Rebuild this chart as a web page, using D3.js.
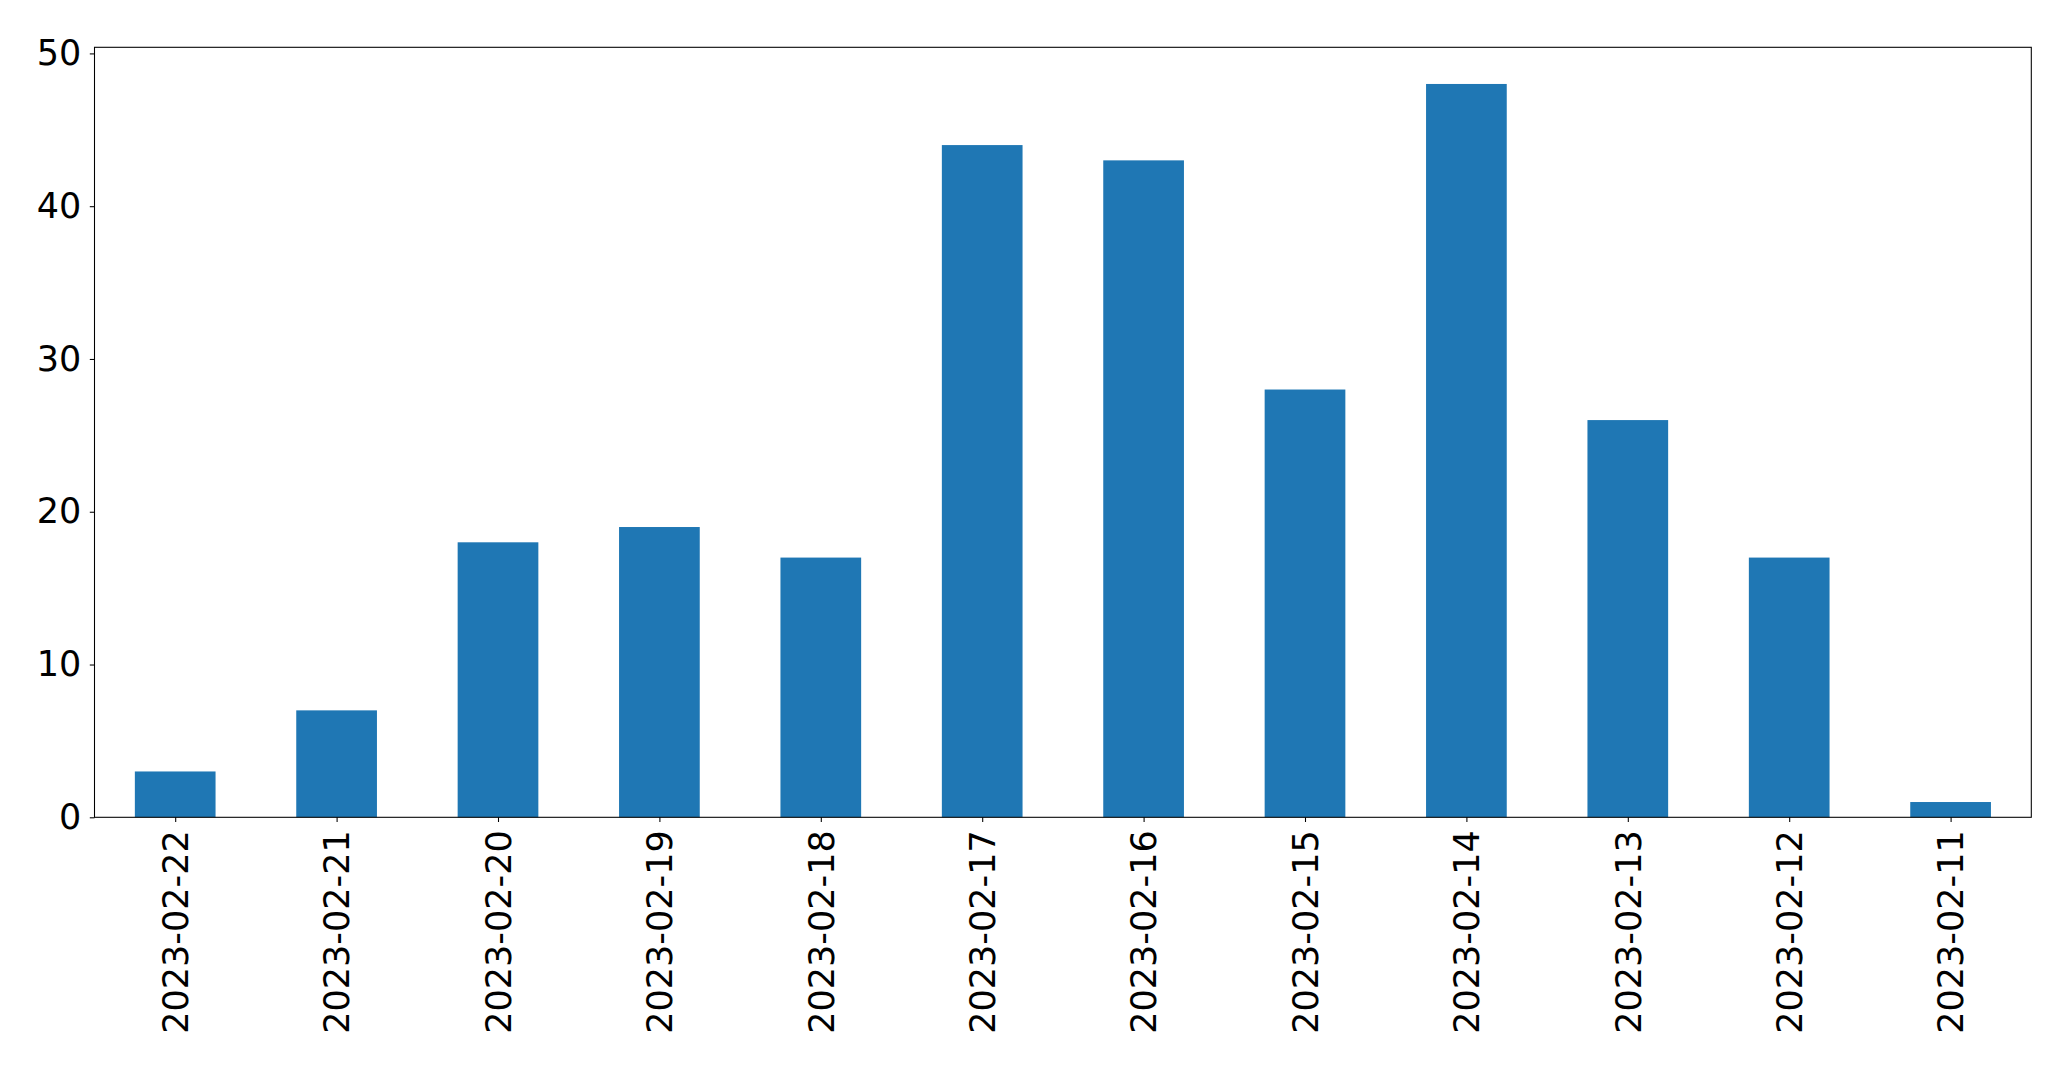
<!DOCTYPE html>
<html><head><meta charset="utf-8">
<script src="https://cdn.jsdelivr.net/npm/d3@7"></script>
<style>body{margin:0;background:#fff}svg{display:block}</style>
</head><body>
<script>
const categories = ["2023-02-22","2023-02-21","2023-02-20","2023-02-19","2023-02-18","2023-02-17","2023-02-16","2023-02-15","2023-02-14","2023-02-13","2023-02-12","2023-02-11"];
const values = [3, 7, 18, 19, 17, 44, 43, 28, 48, 26, 17, 1];
const yTicks = [0, 10, 20, 30, 40, 50];

const W = 2071, H = 1069;
const L = 94.5, R = 2031.3, T = 47.3, B = 817.3;
const fs = 35;
const svg = d3.select("body").append("svg").attr("width", W).attr("height", H);

const x = d3.scaleLinear().domain([-0.5, categories.length - 0.5]).range([L, R]);
const y = d3.scaleLinear().domain([0, 50.4]).range([B, T]);

svg.append("g").selectAll("rect").data(values).join("rect")
  .attr("x", (d, i) => x(i - 0.25)).attr("width", (d, i) => x(i + 0.25) - x(i - 0.25))
  .attr("y", d => y(d)).attr("height", d => y(0) - y(d))
  .attr("fill", "#1f77b4");

const yAxis = svg.append("g").attr("transform", `translate(${L},0)`)
  .call(d3.axisLeft(y).tickValues(yTicks).tickSize(4.7).tickPadding(8.5).tickFormat(d3.format("d")));
yAxis.select(".domain").remove();
yAxis.selectAll("line").attr("stroke", "#000").attr("stroke-width", 1.07);
yAxis.selectAll("text").attr("font-family", "DejaVu Sans").attr("font-size", fs).attr("fill", "#000");

const xAxis = svg.append("g").attr("transform", `translate(0,${B})`)
  .call(d3.axisBottom(x).tickValues(d3.range(categories.length)).tickSize(4.7).tickFormat(i => categories[i]));
xAxis.select(".domain").remove();
xAxis.selectAll("line").attr("stroke", "#000").attr("stroke-width", 1.07);
xAxis.selectAll("text").attr("font-family", "DejaVu Sans").attr("font-size", fs).attr("fill", "#000")
  .attr("transform", "rotate(-90)").attr("text-anchor", "end")
  .attr("x", -13).attr("y", 0).attr("dy", "0.35em");

svg.append("rect").attr("x", L).attr("y", T).attr("width", R - L).attr("height", B - T)
  .attr("fill", "none").attr("stroke", "#000").attr("stroke-width", 1.07);
</script>
</body></html>
